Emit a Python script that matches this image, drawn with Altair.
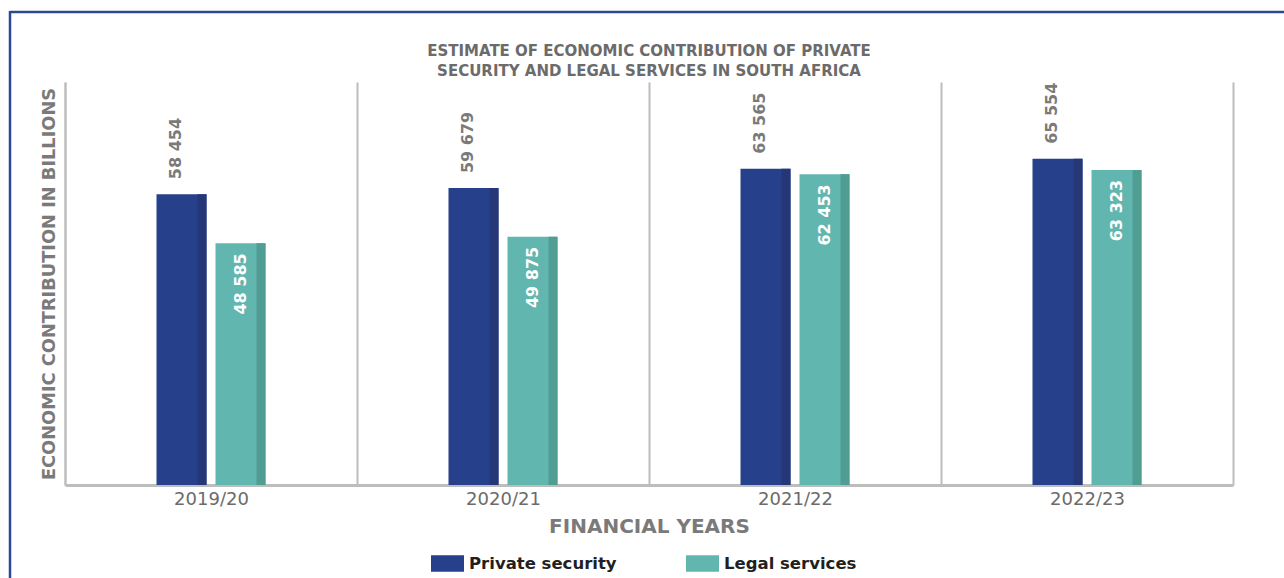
import altair as alt
import pandas as pd

years = ["2019/20", "2020/21", "2021/22", "2022/23"]
private_security = [58454, 59679, 63565, 65554]
legal_services = [48585, 49875, 62453, 63323]
series_names = ["Private security", "Legal services"]
main_colors = ["#26408B", "#62B6B0"]
edge_colors = ["#263777", "#509D94"]

def fmt(v):
    return f"{v:,}".replace(",", " ")

rows = []
for yr, p, l in zip(years, private_security, legal_services):
    rows.append({"year": yr, "series": series_names[0], "value": p, "label": fmt(p)})
    rows.append({"year": yr, "series": series_names[1], "value": l, "label": fmt(l)})
df = pd.DataFrame(rows)

FONT = "DejaVu Sans"

x_enc = alt.X(
    "year:N", sort=years,
    scale=alt.Scale(paddingInner=0, paddingOuter=0),
    axis=alt.Axis(
        title="FINANCIAL YEARS", labelAngle=0, tickBand="extent", grid=True, ticks=False,
        gridColor="#BDBDBD", gridWidth=2, domainColor="#BDBDBD", domainWidth=3,
        labelFont=FONT, labelFontSize=18, labelColor="#6B6B6B", labelPadding=5,
        titleFont=FONT, titleFontSize=20, titleFontWeight="bold", titleColor="#7A7A7A",
        titlePadding=8,
    ),
)
y_enc = alt.Y(
    "value:Q", scale=alt.Scale(domain=[0, 81000]),
    axis=alt.Axis(
        title="ECONOMIC CONTRIBUTION IN BILLIONS", labels=False, ticks=False, grid=False,
        domainColor="#BDBDBD", domainWidth=2,
        titleFont=FONT, titleFontSize=17.8, titleFontWeight="bold", titleColor="#7A7A7A",
        titlePadding=7,
    ),
)
color_enc = alt.Color(
    "series:N",
    scale=alt.Scale(domain=series_names, range=main_colors),
    legend=alt.Legend(
        orient="none", legendX=366, legendY=465, direction="horizontal", title=None,
        symbolType="M-1,-0.5H1V0.5H-1Z", symbolSize=1089, symbolStrokeWidth=0, symbolOpacity=1,
        labelFont=FONT, labelFontSize=16.5, labelFontWeight="bold", labelColor="#231F20",
        labelOffset=5, columnPadding=69,
    ),
)

base = alt.Chart(df)
priv = base.transform_filter(alt.datum.series == series_names[0])
legal = base.transform_filter(alt.datum.series == series_names[1])

P_OFF = -29.5
L_OFF = 29.5

priv_main = priv.mark_bar(width=50, xOffset=P_OFF).encode(x=x_enc, y=y_enc, color=color_enc)
priv_edge = priv.mark_bar(width=9, xOffset=P_OFF + 20.5, color=edge_colors[0]).encode(x=x_enc, y=y_enc)
legal_main = legal.mark_bar(width=50, xOffset=L_OFF).encode(x=x_enc, y=y_enc, color=color_enc)
legal_edge = legal.mark_bar(width=9, xOffset=L_OFF + 20.5, color=edge_colors[1]).encode(x=x_enc, y=y_enc)

priv_text = priv.mark_text(
    angle=270, align="left", baseline="middle", dx=15, xOffset=P_OFF - 6,
    font=FONT, fontSize=16, fontWeight="bold", color="#7A7A7A",
).encode(x=x_enc, y=y_enc, text="label:N")
legal_text = legal.mark_text(
    angle=270, align="right", baseline="middle", dx=-10, xOffset=L_OFF,
    font=FONT, fontSize=16, fontWeight="bold", color="#FFFFFF",
).encode(x=x_enc, y=y_enc, text="label:N")

frame_df = pd.DataFrame({"k": [0]})
frame_top = alt.Chart(frame_df).mark_rule(color="#2D4795", strokeWidth=2.5).encode(
    x=alt.value(-55), x2=alt.value(1300), y=alt.value(-70)
)
frame_left = alt.Chart(frame_df).mark_rule(color="#2D4795", strokeWidth=2.5).encode(
    x=alt.value(-55), y=alt.value(-71), y2=alt.value(600)
)

chart = alt.layer(
    priv_main, priv_edge, legal_main, legal_edge, priv_text, legal_text, frame_top, frame_left
).properties(
    width=1168, height=403,
    title=alt.TitleParams(
        ["ESTIMATE OF ECONOMIC CONTRIBUTION OF PRIVATE", "SECURITY AND LEGAL SERVICES IN SOUTH AFRICA"],
        font=FONT, fontSize=15, fontWeight="bold", color="#6B6B6B", anchor="middle",
        offset=-69, lineHeight=20,
    ),
    autosize=alt.AutoSizeParams(type="none"),
    padding={"left": 65, "top": 82, "right": 51, "bottom": 93},
).configure(background="#FFFFFF").configure_view(stroke=None)

chart.save("out.html", embed_options={"renderer": "svg", "actions": False})
